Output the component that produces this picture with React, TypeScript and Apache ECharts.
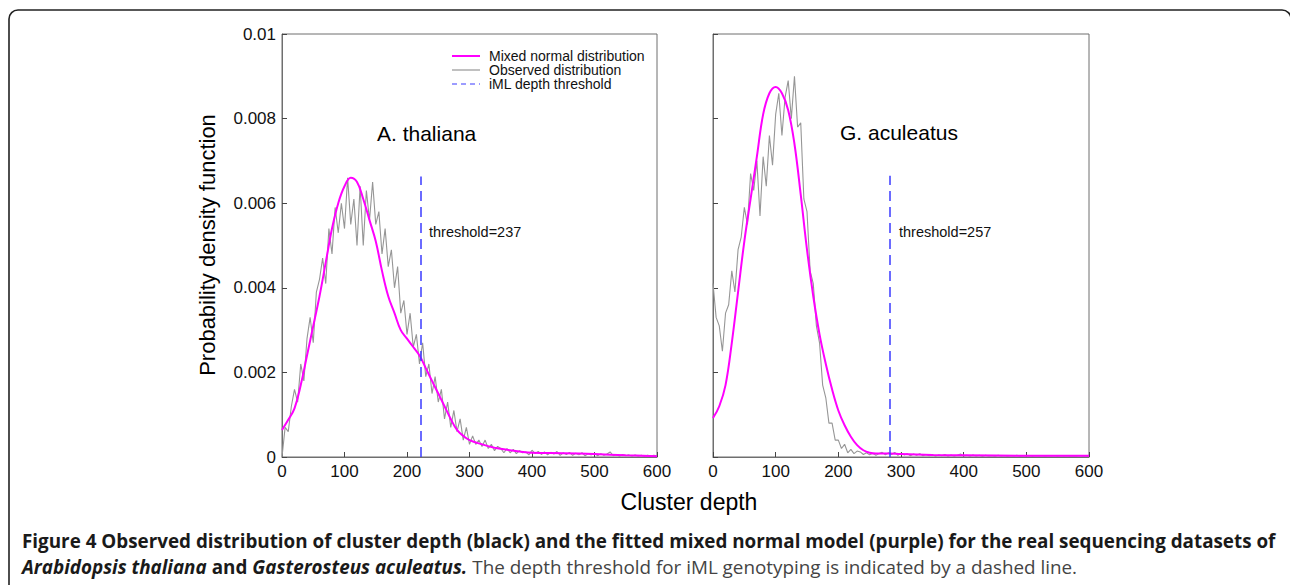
import React, { useEffect, useRef } from "react";
import * as echarts from "echarts";

// ---------- data ----------
const depthTicks = [0, 100, 200, 300, 400, 500, 600];
const densityTicks = [0, 0.002, 0.004, 0.006, 0.008, 0.01];

const obsDepthStep = 5; // observed histogram sampled every 5 units of depth (0..600)

// A. thaliana
const fitDepthA = [0, 10, 20, 30, 40, 50, 60, 70, 80, 90, 100, 110, 120, 130, 140, 150, 160, 170, 180, 190, 200, 210, 220, 230, 240, 250, 260, 270, 280, 290, 300, 320, 340, 360, 380, 400, 450, 500, 550, 600];
const fitDensityA = [0.00064, 0.00088, 0.00115, 0.0017, 0.0024, 0.0031, 0.0038, 0.0046, 0.0054, 0.006, 0.0064, 0.0066, 0.0065, 0.0061, 0.0056, 0.0051, 0.0044, 0.0038, 0.0034, 0.003, 0.0028, 0.0026, 0.0024, 0.0021, 0.0018, 0.0015, 0.0012, 0.0009, 0.00064, 0.0005, 0.0004, 0.0003, 0.00022, 0.00017, 0.00013, 0.0001, 0.00009, 0.00007, 0.00004, 0.00002];
const obsDensityA = [
  0.0, 0.0007, 0.0006, 0.0012, 0.0016, 0.0013, 0.0022, 0.0018, 0.0028, 0.0033,
  0.0027, 0.0039, 0.0042, 0.0047, 0.0041, 0.0054, 0.0048, 0.0059, 0.0053, 0.006,
  0.0054, 0.0066, 0.0055, 0.0061, 0.005, 0.0064, 0.005, 0.0063, 0.0056, 0.0065,
  0.0055, 0.0058, 0.0048, 0.0054, 0.0045, 0.0049, 0.004, 0.0045, 0.0034, 0.0037,
  0.0029, 0.0034, 0.0026, 0.0029, 0.0022, 0.0027, 0.0019, 0.0022, 0.0015, 0.0019,
  0.0013, 0.0016, 0.0009, 0.0013, 0.0007, 0.0011, 0.0006, 0.0009, 0.0004, 0.0007,
  0.0003, 0.0005, 0.0003, 0.0004, 0.00025, 0.0004, 0.0002, 0.0003, 0.00015, 0.00025,
  0.0002, 0.0001, 0.0002, 0.0001, 0.00018, 0.00008, 0.00015, 0.0001, 0.00012, 0.00005,
  0.00016, 0.00008, 0.00013, 0.00006, 0.00012, 0.00005, 0.00011, 0.00007, 0.00013, 0.00004,
  0.0001, 0.00006, 0.00011, 0.00004, 0.00009, 0.00005, 0.0001, 0.00003, 0.00008, 0.00005,
  0.00009, 0.00003, 0.00008, 0.00004, 0.00007, 0.00012, 0.00003, 0.00006, 0.00002, 0.00006,
  0.00003, 0.00005, 0.00002, 0.00005, 0.00002, 0.00004, 0.00001, 0.00004, 0.00002, 0.00004,
  0.00002,
];
const thresholdLineA = 222;
const thresholdTopA = 0.00663;
const thresholdLabelA = 237;

// G. aculeatus
const fitDepthG = [0, 10, 20, 30, 40, 50, 60, 70, 80, 90, 100, 110, 120, 130, 140, 150, 160, 170, 180, 190, 200, 210, 220, 230, 240, 250, 260, 280, 300, 350, 400, 500, 600];
const fitDensityG = [0.00092, 0.0012, 0.0017, 0.0027, 0.0039, 0.0051, 0.0061, 0.0071, 0.0081, 0.0086, 0.00875, 0.0086, 0.0082, 0.0074, 0.0062, 0.0049, 0.0038, 0.0029, 0.0022, 0.0016, 0.0011, 0.00075, 0.00048, 0.00028, 0.00016, 0.0001, 0.00008, 0.00008, 0.00007, 0.00005, 0.00004, 0.00003, 0.00003];
const obsDensityG = [
  0.0041, 0.0033, 0.0031, 0.0025, 0.0034, 0.0036, 0.0044, 0.0039, 0.0049, 0.0052,
  0.0059, 0.0055, 0.0067, 0.0063, 0.007, 0.0057, 0.0071, 0.0064, 0.0076, 0.0069,
  0.0081, 0.0086, 0.0076, 0.0085, 0.0089, 0.008, 0.009, 0.0078, 0.0079, 0.0061,
  0.0058, 0.0044, 0.0041, 0.0031, 0.0027, 0.0017, 0.0014, 0.0008, 0.0008, 0.0004,
  0.0004, 0.0002, 0.0003, 0.0001, 0.00018, 0.00008, 0.00014, 0.00012, 0.00006, 0.0001,
  0.00005, 0.00009, 0.00004, 0.00008, 0.00011, 0.00005, 0.0001, 0.00006, 0.00011, 0.00004,
  0.00009, 0.00005, 0.00008, 0.00003, 0.00007, 0.00004, 0.00008, 0.00003, 0.00006, 0.00003,
  0.00006, 0.00002, 0.00005, 0.00003, 0.00006, 0.00002, 0.00005, 0.00002, 0.00004, 0.00007,
  0.00002, 0.00004, 0.00002, 0.00005, 0.00002, 0.00004, 0.00001, 0.00004, 0.00002, 0.00003,
  0.00001, 0.00004, 0.00002, 0.00003, 0.00001, 0.00003, 0.00002, 0.00004, 0.00001, 0.00003,
  0.00002, 0.00003, 0.00001, 0.00003, 0.00002, 0.00003, 0.00001, 0.00003, 0.00002, 0.00003,
  0.00001, 0.00003, 0.00002, 0.00003, 0.00001, 0.00002, 0.00001, 0.00003, 0.00001, 0.00002,
  0.00001,
];
const thresholdLineG = 282;
const thresholdTopG = 0.00665;
const thresholdLabelG = 257;

const panelTitles = ["A. thaliana", "G. aculeatus"];
const legendNames = ["Mixed normal distribution", "Observed distribution", "iML depth threshold"];
const yAxisTitle = "Probability density function";
const xAxisTitle = "Cluster depth";
const captionLine1 =
  "Figure 4 Observed distribution of cluster depth (black) and the fitted mixed normal model (purple) for the real sequencing datasets of";
const captionParts2 = [
  { k: "bi", t: "Arabidopsis thaliana" },
  { k: "b", t: " and " },
  { k: "bi", t: "Gasterosteus aculeatus." },
  { k: "r", t: " The depth threshold for iML genotyping is indicated by a dashed line." },
];

// ---------- styles ----------
const MAGENTA = "#ff00ff";
const GRAY = "#969696";
const BLUE = "#3b3bff";
const AXIS = "#6f6f6f";
const SANS = "'Liberation Sans', Arial, sans-serif";
const CAP_FONT = "'Open Sans', 'Noto Sans', sans-serif";
const CAP_SIZE = 19;

const zip = (xs: number[], ys: number[]) => xs.map((x, i) => [x, ys[i]]);
const obsPairs = (ys: number[]) => ys.map((y, i) => [i * obsDepthStep, y]);

function measure(text: string, font: string) {
  const c = document.createElement("canvas");
  const ctx = c.getContext("2d")!;
  ctx.font = font;
  return ctx.measureText(text).width;
}

export default function App() {
  const ref = useRef<HTMLDivElement>(null);

  useEffect(() => {
    if (!ref.current) return;
    const chart = echarts.init(ref.current, null, { renderer: "svg" });

    const capW1 = measure(captionLine1, `bold ${CAP_SIZE}px ${CAP_FONT}`);
    const capScale = 1255 / capW1;

    const grids = [
      { left: 282, top: 34, width: 375, height: 423 },
      { left: 713, top: 34, width: 376, height: 423 },
    ];

    const xAxisCommon = (gi: number) => ({
      type: "value",
      gridIndex: gi,
      min: depthTicks[0],
      max: depthTicks[depthTicks.length - 1],
      interval: depthTicks[1] - depthTicks[0],
      axisLine: { show: true, lineStyle: { color: AXIS, width: 1 } },
      axisTick: { show: true, inside: true, length: 5, lineStyle: { color: "#444" } },
      axisLabel: { show: true, color: "#111", fontFamily: SANS, fontSize: 17, margin: 6 },
      splitLine: { show: false },
    });
    const yAxisCommon = (gi: number, showLabel: boolean) => ({
      type: "value",
      gridIndex: gi,
      min: densityTicks[0],
      max: densityTicks[densityTicks.length - 1],
      interval: densityTicks[1] - densityTicks[0],
      axisLine: { show: true, lineStyle: { color: AXIS, width: 1 } },
      axisTick: { show: true, inside: true, length: 5, lineStyle: { color: "#444" } },
      axisLabel: {
        show: showLabel,
        color: "#111",
        fontFamily: SANS,
        fontSize: 17,
        margin: 6,
        formatter: (v: number) => String(parseFloat(v.toFixed(4))),
      },
      splitLine: { show: false },
    });

    const thresholdSeries = (gi: number, x: number, top: number) => ({
      type: "line",
      xAxisIndex: gi,
      yAxisIndex: gi,
      data: [],
      silent: true,
      markLine: {
        silent: true,
        symbol: "none",
        label: { show: false },
        lineStyle: { color: BLUE, width: 1.5, type: [10, 6] },
        data: [[{ coord: [x, 0] }, { coord: [x, top] }]],
      },
    });

    const obsSeries = (gi: number, ys: number[]) => ({
      type: "line",
      xAxisIndex: gi,
      yAxisIndex: gi,
      data: obsPairs(ys),
      showSymbol: false,
      silent: true,
      lineStyle: { color: GRAY, width: 1.1 },
      z: 2,
    });
    const fitSeries = (gi: number, xs: number[], ys: number[]) => ({
      type: "line",
      xAxisIndex: gi,
      yAxisIndex: gi,
      data: zip(xs, ys),
      showSymbol: false,
      smooth: 0.4,
      silent: true,
      lineStyle: { color: MAGENTA, width: 2 },
      z: 3,
    });

    const legendY = [56, 70, 84];
    const legendColors = [MAGENTA, GRAY, BLUE];
    const legendGraphics: any[] = [];
    legendNames.forEach((name, i) => {
      legendGraphics.push({
        type: "line",
        shape: { x1: 452, y1: legendY[i], x2: 480, y2: legendY[i] },
        style: {
          stroke: legendColors[i],
          lineWidth: i === 0 ? 2 : 1.2,
          lineDash: i === 2 ? [5, 4] : null,
        },
      });
      legendGraphics.push({
        type: "text",
        x: 489,
        y: legendY[i],
        style: {
          text: name,
          fill: "#111",
          font: `14px ${SANS}`,
          textVerticalAlign: "middle",
        },
      });
    });

    const richText = captionParts2.map((p) => `{${p.k}|${p.t}}`).join("");

    const option: any = {
      animation: false,
      backgroundColor: "#ffffff",
      grid: grids.map((g) => ({ ...g, show: true, borderColor: AXIS, borderWidth: 1, backgroundColor: "transparent" })),
      xAxis: [xAxisCommon(0), xAxisCommon(1)],
      yAxis: [yAxisCommon(0, true), yAxisCommon(1, false)],
      series: [
        obsSeries(0, obsDensityA),
        fitSeries(0, fitDepthA, fitDensityA),
        thresholdSeries(0, thresholdLineA, thresholdTopA),
        obsSeries(1, obsDensityG),
        fitSeries(1, fitDepthG, fitDensityG),
        thresholdSeries(1, thresholdLineG, thresholdTopG),
      ],
      graphic: [
        {
          type: "rect",
          shape: { x: 9, y: 10, width: 1282, height: 640, r: 9 },
          style: { fill: "none", stroke: "#222", lineWidth: 1.6 },
          silent: true,
        },
        ...legendGraphics,
        {
          type: "text",
          x: 377,
          y: 133,
          style: { text: panelTitles[0], fill: "#000", font: `21px ${SANS}`, textVerticalAlign: "middle" },
        },
        {
          type: "text",
          x: 840,
          y: 132,
          style: { text: panelTitles[1], fill: "#000", font: `21px ${SANS}`, textVerticalAlign: "middle" },
        },
        {
          type: "text",
          x: 429,
          y: 232,
          style: { text: `threshold=${thresholdLabelA}`, fill: "#111", font: `14.5px ${SANS}`, textVerticalAlign: "middle" },
        },
        {
          type: "text",
          x: 899,
          y: 232,
          style: { text: `threshold=${thresholdLabelG}`, fill: "#111", font: `14.5px ${SANS}`, textVerticalAlign: "middle" },
        },
        {
          type: "text",
          x: 207,
          y: 245,
          rotation: Math.PI / 2,
          style: {
            text: yAxisTitle,
            fill: "#000",
            font: `22px ${SANS}`,
            textAlign: "center",
            textVerticalAlign: "middle",
          },
        },
        {
          type: "text",
          x: 689,
          y: 502,
          style: {
            text: xAxisTitle,
            fill: "#000",
            font: `23px ${SANS}`,
            textAlign: "center",
            textVerticalAlign: "middle",
          },
        },
        {
          type: "group",
          x: 22,
          y: 0,
          scaleX: capScale,
          children: [
            {
              type: "text",
              x: 0,
              y: 541,
              style: {
                text: captionLine1,
                fill: "#1a1a1a",
                font: `bold ${CAP_SIZE}px ${CAP_FONT}`,
                textVerticalAlign: "middle",
              },
            },
            {
              type: "text",
              x: 0,
              y: 567,
              style: {
                text: richText,
                textVerticalAlign: "middle",
                rich: {
                  bi: { fontFamily: CAP_FONT, fontSize: CAP_SIZE, fontWeight: "bold", fontStyle: "italic", fill: "#1a1a1a" },
                  b: { fontFamily: CAP_FONT, fontSize: CAP_SIZE, fontWeight: "bold", fill: "#1a1a1a" },
                  r: { fontFamily: CAP_FONT, fontSize: CAP_SIZE, fontWeight: "normal", fill: "#444" },
                },
              },
            },
          ],
        },
      ],
    };

    chart.setOption(option);
    return () => chart.dispose();
  }, []);

  return (
    <div
      ref={ref}
      style={{ position: "fixed", left: 0, top: 0, width: 1290, height: 585, background: "#fff" }}
    />
  );
}
